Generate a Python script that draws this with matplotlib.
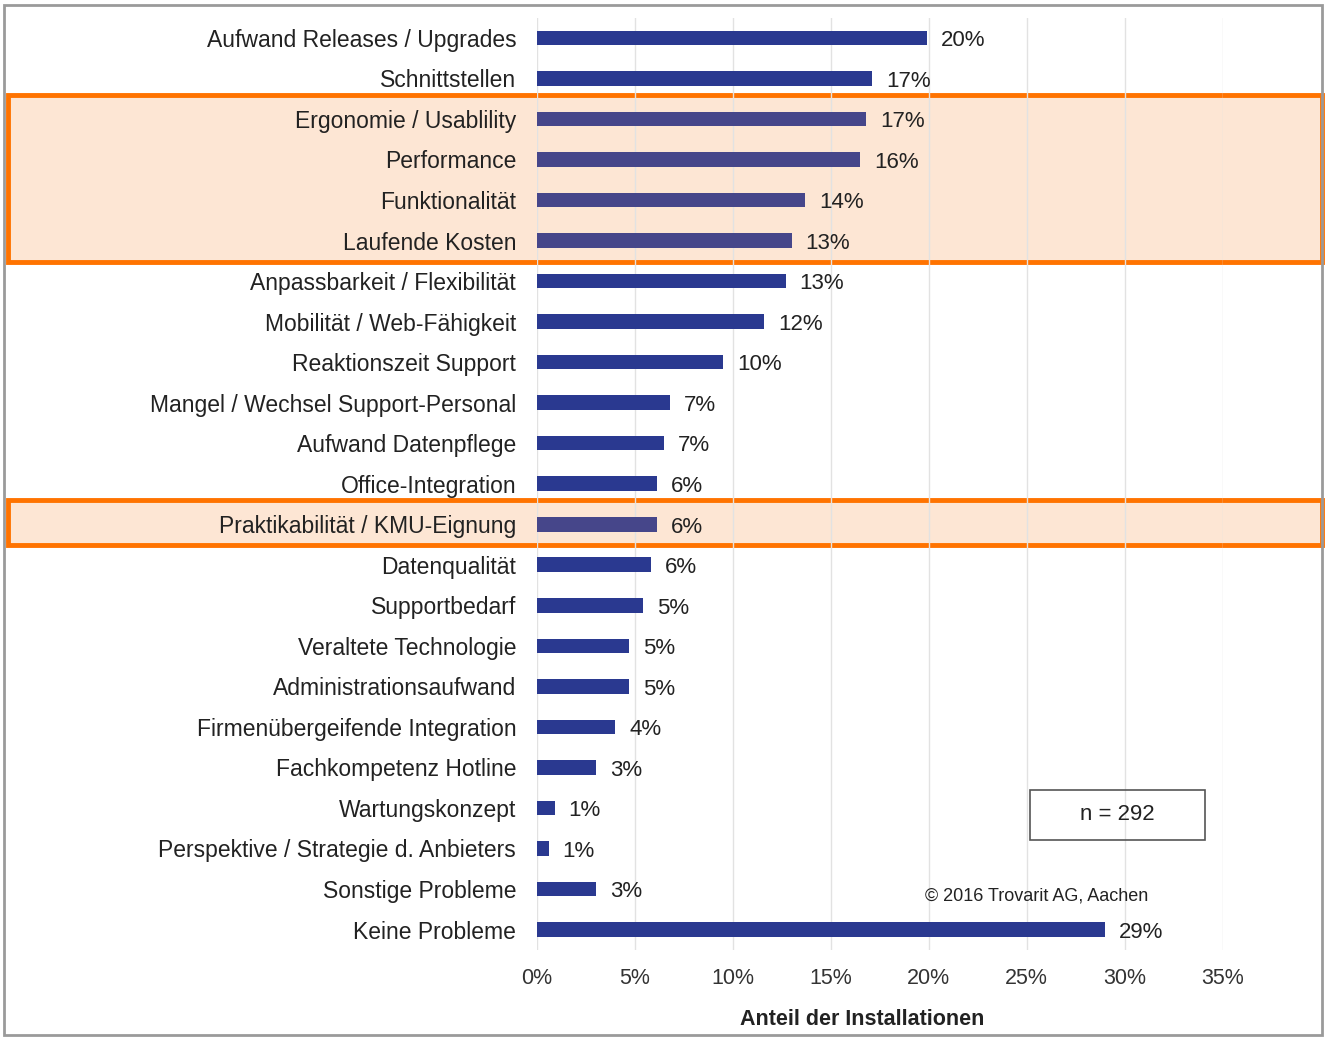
import matplotlib.pyplot as plt
import matplotlib.transforms as mtransforms
from matplotlib.patches import Rectangle

plt.rcParams['font.family'] = ['Liberation Sans', 'DejaVu Sans']

categories = ['Aufwand Releases / Upgrades', 'Schnittstellen', 'Ergonomie / Usablility',
              'Performance', 'Funktionalität', 'Laufende Kosten',
              'Anpassbarkeit / Flexibilität', 'Mobilität / Web-Fähigkeit',
              'Reaktionszeit Support', 'Mangel / Wechsel Support-Personal',
              'Aufwand Datenpflege', 'Office-Integration', 'Praktikabilität / KMU-Eignung',
              'Datenqualität', 'Supportbedarf', 'Veraltete Technologie',
              'Administrationsaufwand', 'Firmenübergeifende Integration',
              'Fachkompetenz Hotline', 'Wartungskonzept',
              'Perspektive / Strategie d. Anbieters', 'Sonstige Probleme', 'Keine Probleme']
values = [19.9, 17.1, 16.8, 16.5, 13.7, 13.0, 12.7, 11.6, 9.5, 6.8, 6.5, 6.1, 6.1,
          5.8, 5.4, 4.7, 4.7, 4.0, 3.0, 0.9, 0.6, 3.0, 29.0]
value_labels = ['20%', '17%', '17%', '16%', '14%', '13%', '13%', '12%', '10%', '7%', '7%',
                '6%', '6%', '6%', '5%', '5%', '5%', '4%', '3%', '1%', '1%', '3%', '29%']
highlight_rows = [(2, 5), (12, 12)]
xticks = [0, 5, 10, 15, 20, 25, 30, 35]

fig = plt.figure(figsize=(13.26, 10.38), dpi=100)
ax = fig.add_axes([0.405, 0.085, 0.517, 0.898])
ax.set_facecolor('none')

hl = set()
for a, b in highlight_rows:
    hl.update(range(a, b + 1))
y = list(range(len(categories)))
colors = ['#46468a' if i in hl else '#2a3990' for i in y]
ax.barh(y, values, height=0.36, color=colors, zorder=3)
for yi, v, lab in zip(y, values, value_labels):
    ax.annotate(lab, (v, yi), xytext=(10, -2), textcoords='offset points',
                va='center', ha='left', fontsize=16, color='#222222')

ax.set_ylim(len(categories) - 0.5, -0.5)
ax.set_xlim(0, 35)
ax.set_yticks(y)
ax.set_yticklabels(categories, fontsize=16.5, color='#222222')
ax.set_xticks(xticks)
ax.set_xticklabels([f'{t}%' for t in xticks], fontsize=15.5, color='#333333')
ax.tick_params(length=0)
ax.tick_params(axis='y', pad=15)
ax.tick_params(axis='x', pad=13)
ax.grid(axis='x', color='#e2e2e2', linewidth=1, zorder=0)
for s in ax.spines.values():
    s.set_visible(False)

ax.set_xlabel('Anteil der Installationen', fontsize=15.5, fontweight='bold', color='#222222')
ax.xaxis.set_label_coords(0.474, -0.064)

# orange highlight boxes over full width
trans = mtransforms.blended_transform_factory(fig.transFigure, ax.transData)
for a, b in highlight_rows:
    ax.add_patch(Rectangle((0.006, a - 0.6), 0.991, b - a + 1.12, transform=trans,
                           facecolor='#fde6d4', edgecolor='#ff7300', linewidth=3.5,
                           clip_on=False, zorder=0.5))

# n box and copyright
fig.patches.append(Rectangle((1030 / 1326, 1 - 840 / 1038), 175 / 1326, 50 / 1038,
                             transform=fig.transFigure, fill=False,
                             edgecolor='#555555', linewidth=1.2))
fig.text(1117 / 1326, 1 - 814 / 1038, 'n = 292', fontsize=16, ha='center', va='center',
         color='#222222')
fig.text(1037 / 1326, 1 - 896 / 1038, '© 2016 Trovarit AG, Aachen', fontsize=13,
         ha='center', va='center', color='#222222')

# outer scan border
fig.patches.append(Rectangle((0.003, 0.003), 0.994, 0.992, transform=fig.transFigure,
                             fill=False, edgecolor='#9a9a9a', linewidth=2))

fig.savefig('out.png', dpi=100)
